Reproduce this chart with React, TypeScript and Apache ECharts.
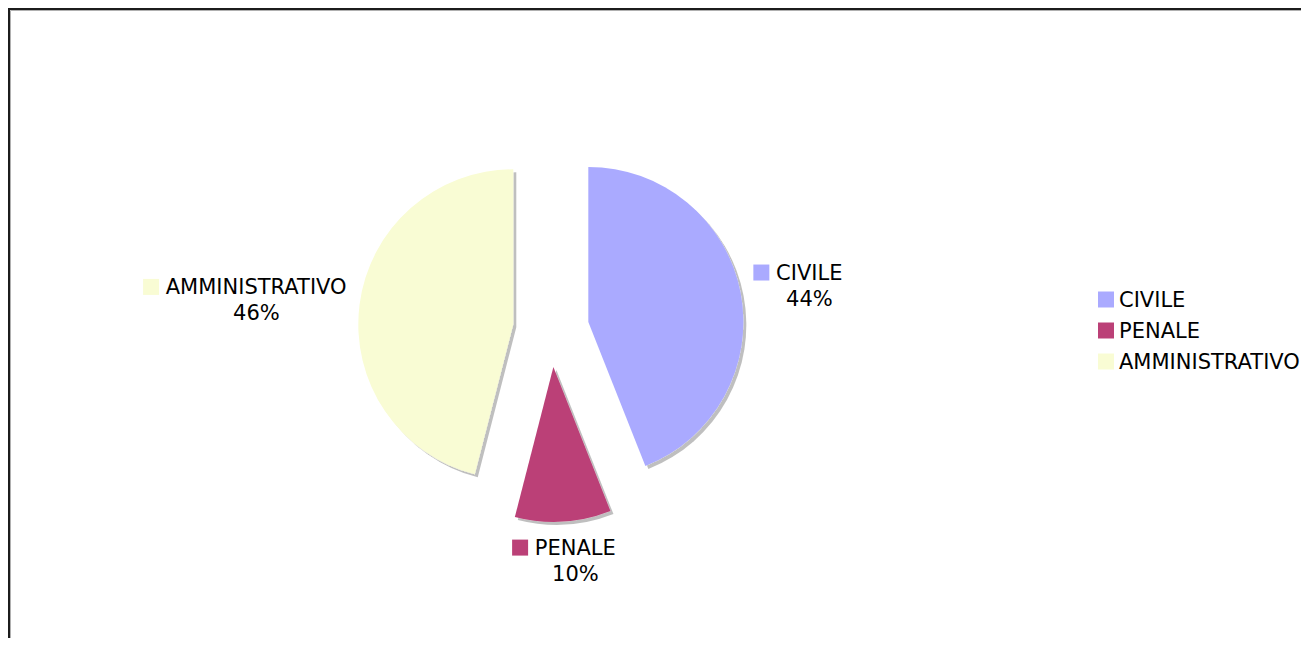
import React, { useEffect, useRef } from 'react';
import * as echarts from 'echarts';

const categories = ['CIVILE', 'PENALE', 'AMMINISTRATIVO'];
const values = [44, 10, 46];
const colors = ['#aaaaff', '#bb4077', '#f9fcd4'];

const FONT = '"DejaVu Sans", Verdana, sans-serif';

export default function App() {
  const ref = useRef<HTMLDivElement>(null);

  useEffect(() => {
    if (!ref.current) return;
    const chart = echarts.init(ref.current, null, { renderer: 'svg' });

    const cx = 543;
    const cy = 321;
    const radius = 155;
    const offset = 38;
    const gap = 13;
    const lineH = 26;
    const blockH = lineH * 2;

    const total = values.reduce((a, b) => a + b, 0);
    const mids: number[] = [];
    let acc = 0;
    values.forEach((v) => {
      mids.push(((acc + v / 2) / total) * Math.PI * 2);
      acc += v;
    });
    const dirs = mids.map((th) => [Math.sin(th), -Math.cos(th)]);

    const rich: any = {
      sqh: { width: 23, height: 16, align: 'left', lineHeight: lineH },
      nm: { fontFamily: FONT, fontSize: 21, color: '#000', align: 'left', lineHeight: lineH },
      pct: { fontFamily: FONT, fontSize: 21, color: '#000', align: 'center', lineHeight: lineH },
    };
    colors.forEach((c, i) => {
      rich['sq' + i] = { width: 16, height: 16, backgroundColor: c, align: 'left', lineHeight: lineH };
    });

    chart.setOption({
      animation: false,
      backgroundColor: '#ffffff',
      graphic: [
        {
          type: 'rect',
          shape: { x: 1, y: 1, width: 4000, height: 4000 },
          style: { fill: 'none', stroke: '#1c1c1c', lineWidth: 2 },
          silent: true,
        },
        {
          type: 'rect',
          shape: { x: 2.5, y: 2.5, width: 4000, height: 4000 },
          style: { fill: 'none', stroke: '#b0b0b0', lineWidth: 1 },
          silent: true,
        },
      ],
      legend: {
        orient: 'vertical',
        left: 1085,
        top: 276,
        itemWidth: 16,
        itemHeight: 16,
        itemGap: 10,
        icon: 'rect',
        textStyle: { fontFamily: FONT, fontSize: 21, color: '#000' },
        data: categories,
        selectedMode: false,
      },
      series: [
        {
          type: 'pie',
          center: [cx, cy],
          radius: radius,
          startAngle: 90,
          clockwise: true,
          selectedMode: 'multiple',
          selectedOffset: offset,
          avoidLabelOverlap: false,
          emphasis: { disabled: true },
          itemStyle: {
            shadowColor: 'rgba(0,0,0,0.25)',
            shadowOffsetX: 3,
            shadowOffsetY: 3,
            shadowBlur: 1,
          },
          label: {
            show: true,
            position: 'outside',
            distanceToLabelLine: 0,
            formatter: (p: any) =>
              `{sq${p.dataIndex}|}{nm| ${p.name}}\n{sqh|}{pct|${Math.round(p.percent)}%}`,
            rich,
          },
          labelLine: { show: false, length: gap, length2: 0 },
          labelLayout: (params: any) => {
            const [dx, dy] = dirs[params.dataIndex];
            const align = dx > 0.5 ? 'left' : dx < -0.5 ? 'right' : 'center';
            const verticalAlign = dy > 0.5 ? 'top' : dy < -0.5 ? 'bottom' : 'middle';
            return { align, verticalAlign };
          },
          data: categories.map((name, i) => {
            const dy = dirs[i][1];
            const middle = Math.abs(dy) <= 0.5;
            const pad = middle
              ? dy < 0
                ? [0, 0, -dy * blockH, 0]
                : [dy * blockH, 0, 0, 0]
              : 0;
            return {
              name,
              value: values[i],
              selected: true,
              itemStyle: { color: colors[i] },
              label: { padding: pad },
            };
          }),
        },
      ],
    });

    return () => chart.dispose();
  }, []);

  return <div ref={ref} style={{ width: 1293, height: 630 }} />;
}
